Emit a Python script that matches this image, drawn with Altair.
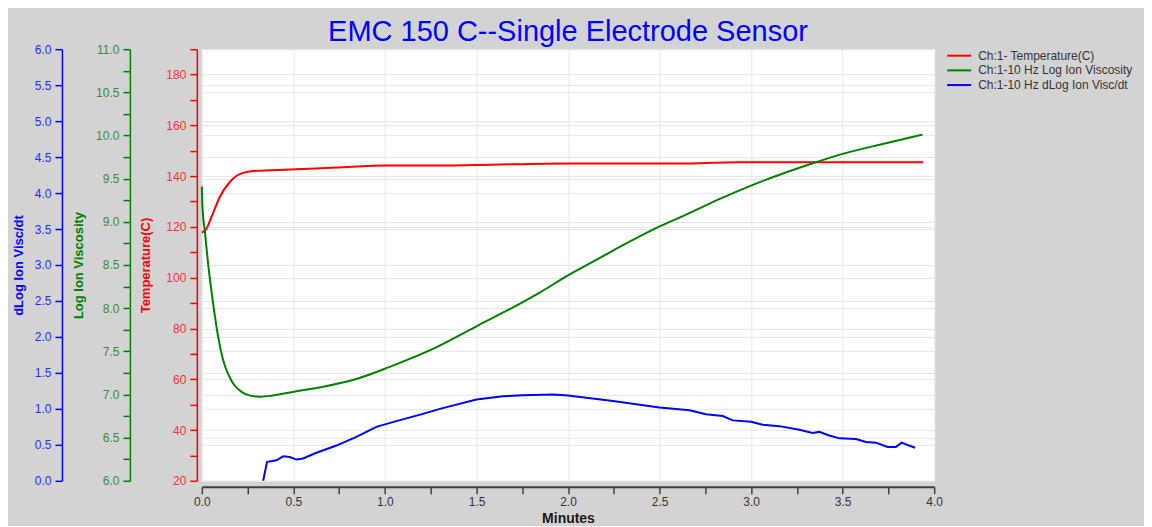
import altair as alt
import pandas as pd

FONT = "Liberation Sans"

# ---- data ----
SER_T = "Ch:1- Temperature(C)"
SER_V = "Ch:1-10 Hz Log Ion Viscosity"
SER_D = "Ch:1-10 Hz dLog Ion Visc/dt"

temp_minutes = [0.0, 0.02, 0.053, 0.098, 0.153, 0.207, 0.298, 0.48, 0.735, 1.008,
                1.244, 1.5, 2.0, 2.66, 2.93, 3.94]
temp_values = [117.8, 118.7, 123.9, 131.8, 137.7, 140.8, 142.1, 142.6, 143.4, 144.2,
               144.2, 144.4, 145.0, 145.0, 145.5, 145.5]

visc_minutes = [0.0, 0.004, 0.016, 0.034, 0.062, 0.089, 0.116, 0.162, 0.217, 0.26,
                0.32, 0.38, 0.498, 0.662, 0.844, 1.026, 1.244, 1.5, 1.753, 1.845,
                2.0, 2.172, 2.336, 2.503, 2.663, 2.823, 3.0, 3.354, 3.505, 3.736,
                3.936]
visc_values = [9.41, 9.15, 8.90, 8.52, 8.05, 7.67, 7.40, 7.16, 7.03, 6.99,
               6.975, 6.985, 7.03, 7.09, 7.18, 7.32, 7.51, 7.79, 8.07, 8.18,
               8.38, 8.58, 8.77, 8.95, 9.10, 9.26, 9.42, 9.69, 9.79, 9.91,
               10.01]

dvisc_minutes = [0.335, 0.356, 0.371, 0.408, 0.444, 0.48, 0.517, 0.553, 0.626, 0.735,
                 0.844, 0.953, 1.062, 1.208, 1.30, 1.5, 1.644, 1.753, 1.917, 2.0,
                 2.245, 2.5, 2.663, 2.754, 2.845, 2.90, 3.0, 3.063, 3.154, 3.264,
                 3.336, 3.372, 3.427, 3.482, 3.573, 3.627, 3.682, 3.745, 3.79, 3.822,
                 3.863, 3.896]
dvisc_values = [0.0, 0.26, 0.27, 0.285, 0.34, 0.33, 0.295, 0.31, 0.39, 0.49,
                0.61, 0.75, 0.83, 0.93, 1.00, 1.13, 1.175, 1.19, 1.20, 1.185,
                1.11, 1.02, 0.98, 0.925, 0.90, 0.84, 0.82, 0.78, 0.76, 0.71,
                0.665, 0.68, 0.63, 0.59, 0.58, 0.54, 0.53, 0.47, 0.47, 0.53,
                0.49, 0.46]

x_ticks = [i * 0.25 for i in range(17)]
temp_ticks = [20 + 10 * i for i in range(18)]
visc_ticks = [6 + 0.25 * i for i in range(21)]
dvisc_ticks = [0.5 * i for i in range(13)]

df_t = pd.DataFrame({"minutes": temp_minutes, "value": temp_values, "series": SER_T})
df_v = pd.DataFrame({"minutes": visc_minutes, "value": visc_values, "series": SER_V})
df_d = pd.DataFrame({"minutes": dvisc_minutes, "value": dvisc_values, "series": SER_D})

GRID = "#e6e6e6"

color_scale = alt.Scale(domain=[SER_T, SER_V, SER_D], range=["#ff0000", "#008000", "#0000ff"])
legend = alt.Legend(
    title=None, orient="none", legendX=752, legendY=0.5, padding=0,
    symbolType="M-2.4,0H2.4", symbolSize=100, symbolStrokeWidth=2,
    labelFont=FONT, labelFontSize=12, labelColor="#333333", labelOffset=13,
    rowPadding=2.7,
)
color = alt.Color("series:N", scale=color_scale, legend=legend)

x_enc = alt.X(
    "minutes:Q",
    scale=alt.Scale(domain=[0, 4], nice=False, zero=False),
    axis=alt.Axis(
        values=x_ticks, title="Minutes", offset=6,
        labelExpr="datum.value % 0.5 == 0 ? format(datum.value, '.1f') : ''",
        labelFont=FONT, labelFontSize=12, labelColor="#333333", labelPadding=3,
        labelFlush=False, labelOverlap=False,
        titleFont=FONT, titleFontSize=14, titleFontWeight="bold", titleColor="#1a1a1a",
        titlePadding=4,
        domainColor="#404040", domainWidth=2, tickColor="#404040", tickWidth=1.5,
        tickSize=7,
        grid=True, gridColor=GRID, gridWidth=1,
        gridOpacity={"condition": {"test": "datum.value % 0.5 == 0", "value": 1}, "value": 0},
    ),
)


def y_axis(title, color_main, color_label, values, offset, major, fmt, title_pad):
    return alt.Axis(
        orient="left", offset=offset, values=values, format=fmt,
        labelExpr=f"datum.value % {major} == 0 ? datum.label : ''",
        labelFont=FONT, labelFontSize=12, labelColor=color_label, labelPadding=4,
        labelFlush=False, labelOverlap=False,
        title=title, titleFont=FONT, titleFontSize=13, titleFontWeight="bold",
        titleColor=color_main, titlePadding=title_pad,
        domainColor=color_main, domainWidth=1.5, tickColor=color_main, tickWidth=1.5,
        tickSize=7,
        grid=True, gridColor=GRID, gridWidth=1,
        gridOpacity={"condition": {"test": f"datum.value % {major} == 0", "value": 1}, "value": 0},
    )


temp_layer = alt.Chart(df_t).mark_line(strokeWidth=2, interpolate="monotone").encode(
    x=x_enc,
    y=alt.Y("value:Q", scale=alt.Scale(domain=[20, 190], nice=False, zero=False),
            axis=y_axis("Temperature(C)", "#ff0000", "#ff3030", temp_ticks, 5, 20, "d", 13)),
    color=color,
)
visc_layer = alt.Chart(df_v).mark_line(strokeWidth=2, interpolate="monotone").encode(
    x=alt.X("minutes:Q"),
    y=alt.Y("value:Q", scale=alt.Scale(domain=[6, 11], nice=False, zero=False),
            axis=y_axis("Log Ion Viscosity", "#008000", "#3f8a2c", visc_ticks, 72, 0.5, ".1f", 10)),
    color=color,
)
dvisc_layer = alt.Chart(df_d).mark_line(strokeWidth=2).encode(
    x=alt.X("minutes:Q"),
    y=alt.Y("value:Q", scale=alt.Scale(domain=[0, 6], nice=False, zero=False),
            axis=y_axis("dLog Ion Visc/dt", "#0000ff", "#2a2aff", dvisc_ticks, 140, 0.5, ".1f", 9)),
    color=color,
)

chart = (
    alt.layer(temp_layer, visc_layer, dvisc_layer)
    .resolve_scale(y="independent")
    .properties(
        width=733, height=432,
        background="#d3d3d3",
        padding={"left": 4, "top": 10, "right": 11, "bottom": 0},
        title=alt.TitleParams(
            "EMC 150 C--Single Electrode Sensor", font=FONT, fontSize=29,
            fontWeight="normal", color="#0000ff", anchor="middle", frame="group", offset=-4,
        ),
    )
    .configure_view(fill="white", stroke="white")
)

chart.save("out.html", embed_options={"renderer": "svg", "actions": False})
